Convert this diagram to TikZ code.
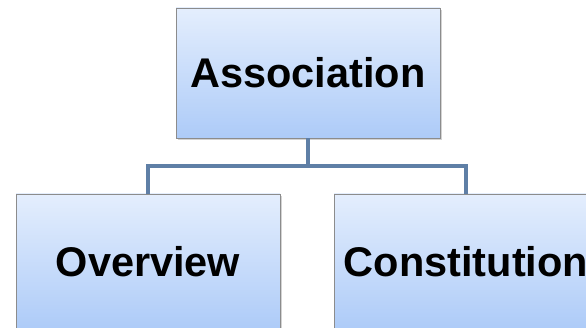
\documentclass[tikz,border=0pt]{standalone}
\usepackage{fontspec}
\setmainfont{Liberation Sans}
\usetikzlibrary{shadows}
\definecolor{boxtop}{HTML}{E4EEFD}
\definecolor{boxbot}{HTML}{ADCBF8}
\definecolor{boxline}{HTML}{8C8C8C}
\definecolor{linkcol}{HTML}{5F7FA6}
\tikzset{
  orgbox/.style={draw=boxline, line width=0.8pt, top color=boxtop, bottom color=boxbot,
    minimum width=264pt, inner sep=0pt, font=\fontsize{41.5}{48}\selectfont\bfseries,
    drop shadow={shadow xshift=2pt, shadow yshift=-2pt, opacity=0.35}},
  link/.style={draw=linkcol, line width=4pt}
}
\begin{document}
\begin{tikzpicture}[x=1pt,y=1pt]
\useasboundingbox (0,0) rectangle (586,328);
\clip (0,0) rectangle (586,328);
\node[orgbox, minimum height=130pt] (assoc) at (308,255) {Association};
\node[orgbox, minimum height=136pt] (over) at (148,66) {Overview};
\node[orgbox, minimum height=136pt] (const) at (466,66) {Constitution};
\draw[link] (assoc.south) -- ++(0,-28) coordinate (mid) -| (over.north);
\draw[link] (mid) -| (const.north);
\end{tikzpicture}
\end{document}
